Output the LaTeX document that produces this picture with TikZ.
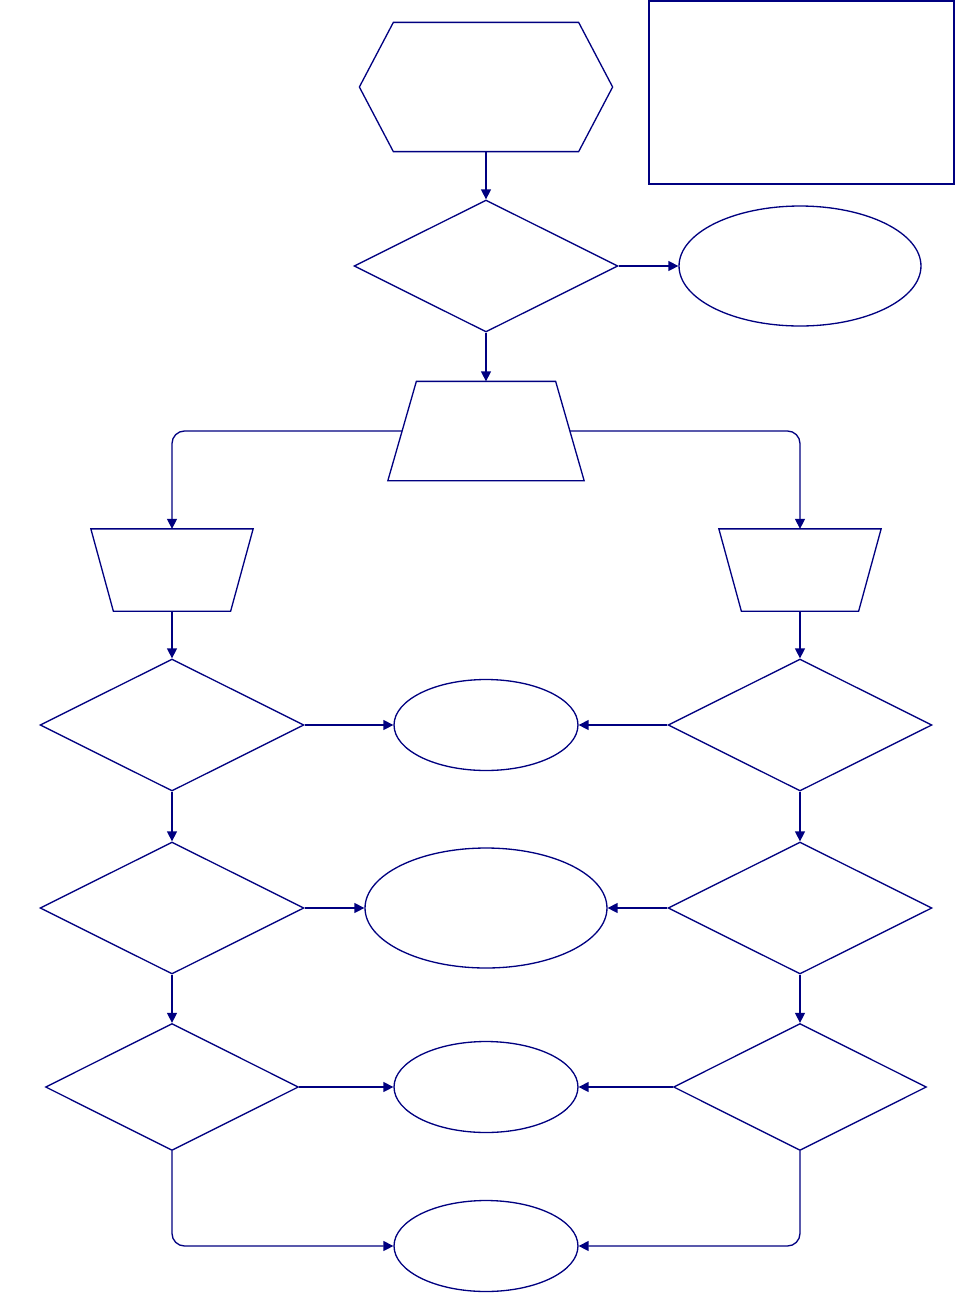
\documentclass[tikz,border=0pt]{standalone}
\usepackage{tikz}
\usetikzlibrary{arrows.meta,shapes.geometric}
\definecolor{navyline}{HTML}{000080}

\begin{document}
\begin{tikzpicture}[
  x=0.02cm,y=-0.02cm,
  every node/.style={draw=navyline,line width=0.75pt,inner sep=2pt},
  box/.style={rectangle,draw=none},
  outline/.style={draw=navyline,line width=0.75pt},
  bigtest/.style={diamond,minimum width=5.28cm,minimum height=2.64cm},
  smalltest/.style={diamond,minimum width=5.06cm,minimum height=2.54cm},
  bigend/.style={ellipse,minimum width=4.84cm,minimum height=2.4cm},
  smallend/.style={ellipse,minimum width=3.68cm,minimum height=1.82cm},
  arr/.style={-{Triangle[length=2mm,width=2mm]},draw=navyline,line width=0.75pt,rounded corners=0.25cm}
]
\useasboundingbox (0,0) rectangle (964,1296);
\node[box,minimum width=5.04cm,minimum height=2.56cm] (start) at (486,87) {};
\draw[outline] ([xshift=0.68cm]start.north west) -- ([xshift=-0.68cm]start.north east)
  -- (start.east) -- ([xshift=-0.68cm]start.south east) -- ([xshift=0.68cm]start.south west) -- (start.west) -- cycle;
\node[rectangle,minimum width=6.1cm,minimum height=3.66cm] (note) at (801.5,92.5) {};
\node[bigtest] (chk) at (486,266) {};
\node[bigend] (stop) at (800,266) {};
\node[box,minimum width=3.9cm,minimum height=1.96cm] (split) at (486,431) {};
\draw[outline] ([xshift=0.57cm]split.north west) -- ([xshift=-0.57cm]split.north east)
  -- (split.south east) -- (split.south west) -- cycle;
\foreach \n/\x in {bl/172,br/800}{
  \node[box,minimum width=3.22cm,minimum height=1.62cm] (\n) at (\x,570) {};
  \draw[outline] (\n.north west) -- (\n.north east) -- ([xshift=-0.45cm]\n.south east)
    -- ([xshift=0.45cm]\n.south west) -- cycle;
}
\node[bigtest] (l1) at (172,725) {};
\node[bigtest] (l2) at (172,908) {};
\node[smalltest] (l3) at (172,1087) {};
\node[bigtest] (r1) at (800,725) {};
\node[bigtest] (r2) at (800,908) {};
\node[smalltest] (r3) at (800,1087) {};
\node[smallend] (e1) at (486,725) {};
\node[bigend] (e2) at (486,908) {};
\node[smallend] (e3) at (486,1087) {};
\node[smallend] (e4) at (486,1246) {};
\draw[arr] (start.south) -- (chk.north);
\draw[arr] (chk.east) -- (stop.west);
\draw[arr] (chk.south) -- (split.north);
\draw[arr] ([xshift=0.285cm]split.west) -| (bl.north);
\draw[arr] ([xshift=-0.285cm]split.east) -| (br.north);
\draw[arr] (bl.south) -- (l1.north);
\draw[arr] (br.south) -- (r1.north);
\draw[arr] (l1.south) -- (l2.north);
\draw[arr] (l2.south) -- (l3.north);
\draw[arr] (r1.south) -- (r2.north);
\draw[arr] (r2.south) -- (r3.north);
\draw[arr] (l1.east) -- (e1.west);
\draw[arr] (l2.east) -- (e2.west);
\draw[arr] (l3.east) -- (e3.west);
\draw[arr] (r1.west) -- (e1.east);
\draw[arr] (r2.west) -- (e2.east);
\draw[arr] (r3.west) -- (e3.east);
\draw[arr] (l3.south) |- (e4.west);
\draw[arr] (r3.south) |- (e4.east);
\end{tikzpicture}
\end{document}
